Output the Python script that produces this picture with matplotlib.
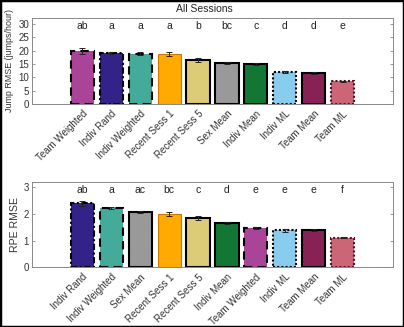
import matplotlib
matplotlib.use("Agg")
import matplotlib.pyplot as plt
from matplotlib.patches import Rectangle

plt.rcParams['font.family'] = ['Liberation Sans', 'DejaVu Sans']

jump_labels = ["Team Weighted", "Indiv Rand", "Indiv Weighted", "Recent Sess 1", "Recent Sess 5",
               "Sex Mean", "Indiv Mean", "Indiv ML", "Team Mean", "Team ML"]
jump_vals = [19.8, 19.1, 18.9, 18.7, 16.6, 15.4, 15.1, 12.1, 11.7, 8.5]
jump_err = [1.2, 0.3, 0.6, 0.8, 0.7, 0.5, 0.4, 0.4, 0.3, 0.2]
jump_letters = ["ab", "a", "a", "a", "b", "bc", "c", "d", "d", "e"]

rpe_labels = ["Indiv Rand", "Indiv Weighted", "Sex Mean", "Recent Sess 1", "Recent Sess 5",
              "Indiv Mean", "Team Weighted", "Indiv ML", "Team Mean", "Team ML"]
rpe_vals = [2.40, 2.23, 2.06, 2.00, 1.85, 1.66, 1.46, 1.38, 1.39, 1.11]
rpe_err = [0.10, 0.05, 0.04, 0.07, 0.07, 0.03, 0.04, 0.04, 0.04, 0.02]
rpe_letters = ["ab", "a", "ac", "bc", "c", "d", "e", "e", "e", "f"]

colors = {
    "Team Weighted": "#AA4499", "Indiv Rand": "#332288", "Indiv Weighted": "#44AA99",
    "Recent Sess 1": "#FFAA00", "Recent Sess 5": "#DDCC77", "Sex Mean": "#999999",
    "Indiv Mean": "#117733", "Indiv ML": "#88CCEE", "Team Mean": "#882255", "Team ML": "#CC6677",
}
edges = {
    "Team Weighted": ("black", (0, (4, 2.5)), 1.5),
    "Indiv Rand": ("black", (0, (3, 1.2, 1, 1.2)), 1.5),
    "Indiv Weighted": ("black", (0, (4, 2.5)), 1.5),
    "Recent Sess 1": ("#CC7700", "-", 0.8),
    "Recent Sess 5": ("black", "-", 1.5),
    "Sex Mean": ("black", "-", 1.5),
    "Indiv Mean": ("black", "-", 1.5),
    "Indiv ML": ("black", (0, (1, 1)), 1.5),
    "Team Mean": ("black", "-", 1.5),
    "Team ML": ("#551122", (0, (1, 1)), 1.5),
}

fig = plt.figure(figsize=(4.04, 3.27), dpi=100)
fig.patches.append(Rectangle((0, 0), 1, 1, transform=fig.transFigure, fill=False,
                             edgecolor='black', linewidth=2.5))
fig.text(0.507, 0.973, "All Sessions", ha='center', va='center', fontsize=7.5, color='#222222')

ax_color = '#888888'

def draw(ax, labels, vals, errs, letters, ylim, yticks, ylabel, letter_y, ylabel_size):
    x = list(range(1, len(labels) + 1))
    for xi, lab, v, e in zip(x, labels, vals, errs):
        ec, ls, lw = edges[lab]
        ax.bar(xi, v, width=0.8, color=colors[lab], edgecolor=ec, linestyle=ls, linewidth=lw, zorder=2)
        ax.errorbar(xi, v, yerr=e, fmt='none', ecolor='#222222', elinewidth=0.7, capsize=2.5,
                    capthick=0.7, zorder=3)
    for xi, t in zip(x, letters):
        ax.text(xi, letter_y, t, ha='center', va='center', fontsize=7.5, color='#222222')
    ax.set_xlim(-0.75, 11.75)
    ax.set_ylim(*ylim)
    ax.set_yticks(yticks)
    ax.set_xticks(x)
    ax.set_xticklabels(labels, rotation=45, ha='right', rotation_mode='anchor', fontsize=7.2, color='#333333')
    ax.set_ylabel(ylabel, fontsize=ylabel_size, color='#333333', labelpad=3)
    ax.tick_params(axis='both', direction='in', length=2.5, width=0.6, color=ax_color,
                   labelsize=7, labelcolor='#333333', right=True, top=False, pad=2)
    ax.tick_params(axis='x', pad=3.5)
    for s in ax.spines.values():
        s.set_color(ax_color)
        s.set_linewidth(0.7)

ax1 = fig.add_axes([0.079, 0.682, 0.894, 0.263])
draw(ax1, jump_labels, jump_vals, jump_err, jump_letters, (0, 32.2), [0, 5, 10, 15, 20, 25, 30],
     "Jump RMSE (jumps/hour)", 29.3, 6.4)

ax2 = fig.add_axes([0.079, 0.183, 0.894, 0.260])
draw(ax2, rpe_labels, rpe_vals, rpe_err, rpe_letters, (0, 3.2), [0, 1, 2, 3],
     "RPE RMSE", 2.92, 7.6)

fig.savefig("out.png", dpi=100)
